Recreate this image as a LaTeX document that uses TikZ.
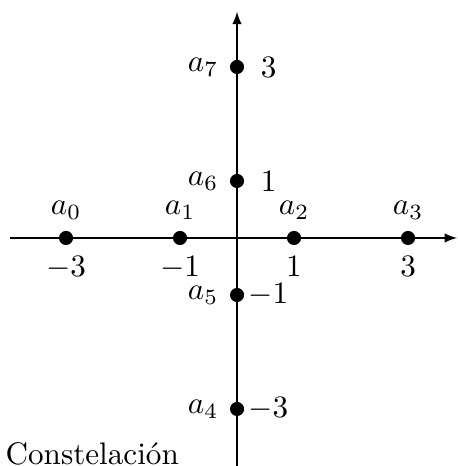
\documentclass[tikz,border=0pt]{standalone}
\usetikzlibrary{arrows.meta,positioning}
\tikzset{pto/.style={circle,fill=black,inner sep=1.6pt},
  eje/.style={-latex,thin}}
\begin{document}
\begin{tikzpicture}[x=18.3pt,y=18.3pt]
\useasboundingbox (-4.158,-4.0) rectangle (3.86,4.175);
\coordinate (xi) at (-3.98,0);
\coordinate (xf) at (3.86,0);
\coordinate (yi) at (0,-4);
\coordinate (yf) at (0,3.97);
\draw[eje] (xi)--(xf);
\draw[eje] (yi)--(yf);
% puntos sobre el eje real
\foreach \x/\n/\v in {-3/0/-3,-1/1/-1,1/2/1,3/3/3}{
 \node[pto,label=above:{$a_\n$},label=below:{$\v$}] (a\n) at (\x,0) {};
}
% puntos sobre el eje imaginario
\foreach \y/\n/\v in {3/7/\hspace{4pt}3,1/6/\hspace{4pt}1,-1/5/-1,-3/4/-3}{
 \node[pto,label=left:{$a_\n$},label={[inner sep=1pt]right:{$\v$}}] (a\n) at (0,\y) {};
}
\node[anchor=base west,inner sep=0pt] (tit) at (-4.07,-3.97) {Constelación};
\end{tikzpicture}
\end{document}
